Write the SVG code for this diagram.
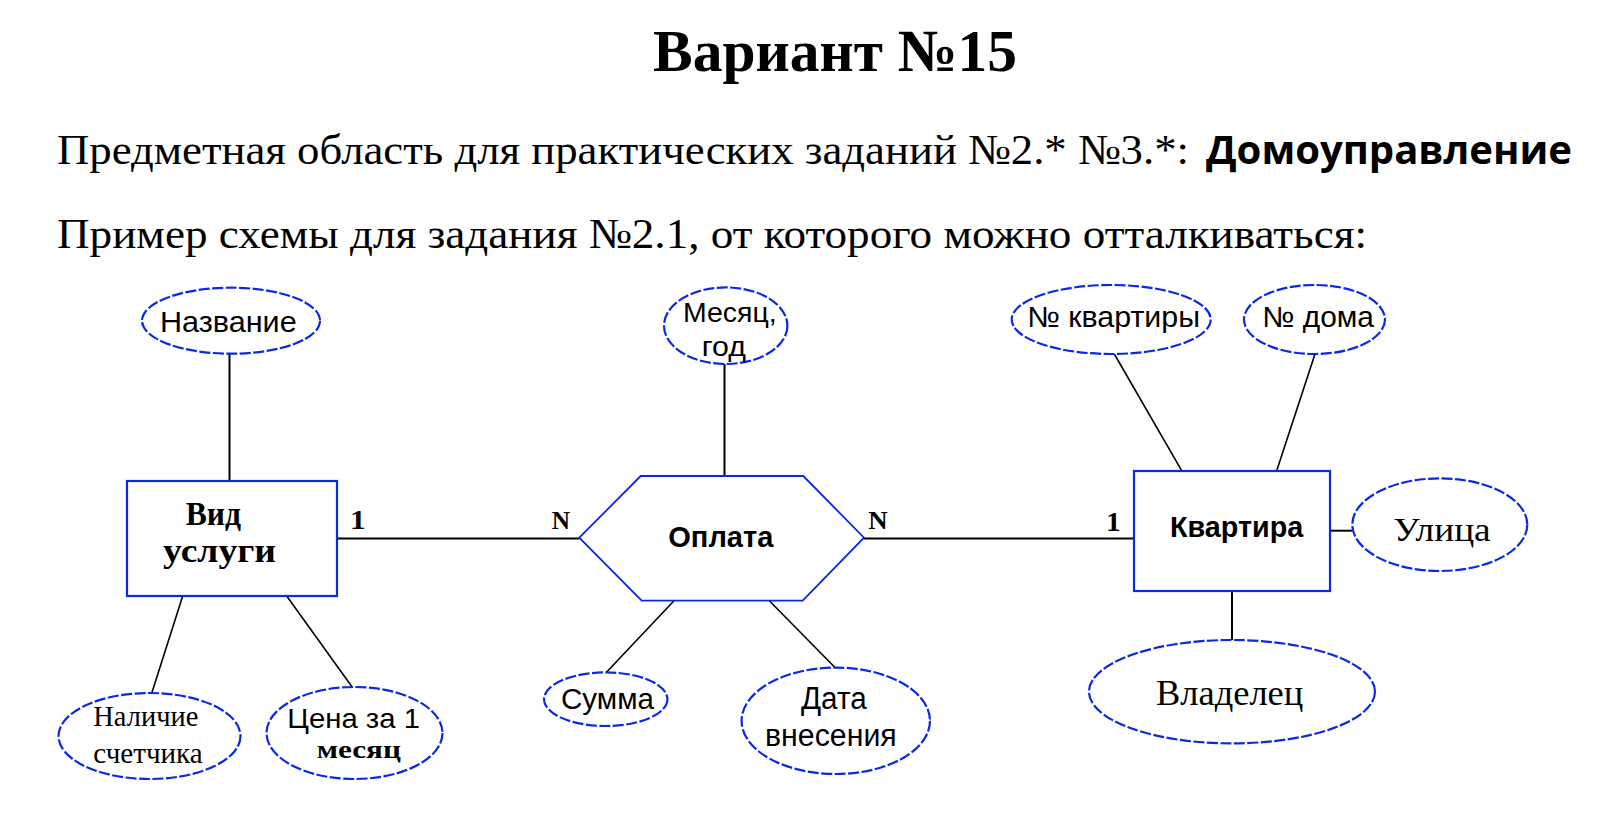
<svg xmlns="http://www.w3.org/2000/svg" width="1624" height="838" viewBox="0 0 1624 838">
<style>
.bg{fill:#ffffff}
.ent{fill:#ffffff;stroke:#0a28e6;stroke-width:2.2}
.rel{fill:#ffffff;stroke:#0a28e6;stroke-width:1.8}
.att{fill:#ffffff;stroke:#0a28e6;stroke-width:2.2;stroke-dasharray:11 2.5}
.ln{stroke:#000000;stroke-width:2;fill:none}
.dg{stroke:#000000;stroke-width:1.6;fill:none}
.sans{font-family:"Liberation Sans",Arial,sans-serif;fill:#000}
.serif{font-family:"Liberation Serif","Times New Roman",serif;fill:#000}
.b{font-weight:bold}
</style>
<rect class="bg" x="0" y="0" width="1624" height="838"/>
<g id="header">
<text class="serif b" x="653" y="71" font-size="60" textLength="364" lengthAdjust="spacingAndGlyphs">Вариант №15</text>
<text class="serif" x="57" y="164" font-size="43" textLength="1132" lengthAdjust="spacingAndGlyphs">Предметная область для практических заданий №2.* №3.*:</text>
<text x="1206" y="164" font-family="'Open Sans','Noto Sans',sans-serif" font-weight="bold" font-size="40" textLength="366" lengthAdjust="spacingAndGlyphs">Домоуправление</text>
<text class="serif" x="57" y="248" font-size="43" textLength="1310" lengthAdjust="spacingAndGlyphs">Пример схемы для задания №2.1, от которого можно отталкиваться:</text>
</g>
<g id="connectors">
<line class="ln" x1="229.5" y1="354" x2="229.5" y2="481"/>
<line class="ln" x1="337" y1="538.5" x2="579.5" y2="538.5"/>
<line class="ln" x1="864" y1="538.5" x2="1134" y2="538.5"/>
<line class="ln" x1="724.5" y1="364" x2="724.5" y2="476"/>
<line class="dg" x1="182.7" y1="596" x2="151.7" y2="693.3"/>
<line class="dg" x1="286.7" y1="596" x2="352.3" y2="687.3"/>
<line class="dg" x1="674" y1="600.7" x2="606.7" y2="672"/>
<line class="dg" x1="769.3" y1="600.7" x2="835" y2="667.5"/>
<line class="dg" x1="1114.3" y1="354" x2="1181.7" y2="470.7"/>
<line class="dg" x1="1315" y1="354" x2="1276.7" y2="470.7"/>
<line class="ln" x1="1330" y1="530.7" x2="1352.3" y2="530.7"/>
<line class="ln" x1="1232" y1="591" x2="1232" y2="640"/>
</g>
<g id="cardinalities">
<text class="serif b" x="350" y="529.3" font-size="27" textLength="15.7" lengthAdjust="spacingAndGlyphs">1</text>
<text class="serif b" x="551.7" y="529.3" font-size="26" textLength="18.3" lengthAdjust="spacingAndGlyphs">N</text>
<text class="serif b" x="868.3" y="529.3" font-size="26" textLength="19.4" lengthAdjust="spacingAndGlyphs">N</text>
<text class="serif b" x="1106" y="531" font-size="27" textLength="14.7" lengthAdjust="spacingAndGlyphs">1</text>
</g>
<g id="vid-uslugi">
<rect class="ent" x="127" y="481" width="210" height="115"/>
<text class="serif b" x="185.7" y="525" font-size="33" textLength="55.3" lengthAdjust="spacingAndGlyphs">Вид</text>
<text class="serif b" x="163" y="561.7" font-size="33" textLength="113" lengthAdjust="spacingAndGlyphs">услуги</text>
</g>
<g id="oplata">
<polygon class="rel" points="579.3,537.7 640.7,476 803.3,476 864,537.7 802.7,600.7 641.7,600.7"/>
<text class="sans b" x="668.3" y="546.7" font-size="30" textLength="105" lengthAdjust="spacingAndGlyphs">Оплата</text>
</g>
<g id="kvartira">
<rect class="ent" x="1134" y="471" width="196" height="120"/>
<text class="sans b" x="1170" y="536.7" font-size="30" textLength="133.3" lengthAdjust="spacingAndGlyphs">Квартира</text>
</g>
<g id="nazvanie">
<ellipse class="att" cx="231" cy="320.7" rx="89" ry="33"/>
<text class="sans" x="160" y="331.7" font-size="29" textLength="136.7" lengthAdjust="spacingAndGlyphs">Название</text>
</g>
<g id="nalichie">
<ellipse class="att" cx="149.5" cy="736" rx="91" ry="43"/>
<text class="serif" x="93.3" y="726" font-size="30" textLength="105" lengthAdjust="spacingAndGlyphs">Наличие</text>
<text class="serif" x="93.3" y="763.3" font-size="30" textLength="109.4" lengthAdjust="spacingAndGlyphs">счетчика</text>
</g>
<g id="cena">
<ellipse class="att" cx="354.5" cy="733" rx="88" ry="46"/>
<text class="sans" x="287.3" y="728" font-size="28" textLength="132.7" lengthAdjust="spacingAndGlyphs">Цена за 1</text>
<text class="serif b" x="316.7" y="758" font-size="25" textLength="84.3" lengthAdjust="spacingAndGlyphs">месяц</text>
</g>
<g id="mesyac-god">
<ellipse class="att" cx="725.7" cy="325.7" rx="61.7" ry="38.3"/>
<text class="sans" x="683" y="321.7" font-size="27" textLength="93.7" lengthAdjust="spacingAndGlyphs">Месяц,</text>
<text class="sans" x="701.7" y="356" font-size="28" textLength="44.3" lengthAdjust="spacingAndGlyphs">год</text>
</g>
<g id="summa">
<ellipse class="att" cx="605.7" cy="699.2" rx="61.7" ry="26.8"/>
<text class="sans" x="561" y="709" font-size="30" textLength="93" lengthAdjust="spacingAndGlyphs">Сумма</text>
</g>
<g id="data-vneseniya">
<ellipse class="att" cx="835.8" cy="720.8" rx="94.2" ry="53.2"/>
<text class="sans" x="801" y="709.3" font-size="31" textLength="65.7" lengthAdjust="spacingAndGlyphs">Дата</text>
<text class="sans" x="765" y="746" font-size="31" textLength="131.7" lengthAdjust="spacingAndGlyphs">внесения</text>
</g>
<g id="nomer-kvartiry">
<ellipse class="att" cx="1111.2" cy="319.5" rx="99.5" ry="34.5"/>
<text class="sans" x="1027.3" y="326.7" font-size="29" textLength="172.7" lengthAdjust="spacingAndGlyphs">№ квартиры</text>
</g>
<g id="nomer-doma">
<ellipse class="att" cx="1314.5" cy="319.5" rx="70.5" ry="34.5"/>
<text class="sans" x="1262.3" y="326.7" font-size="29" textLength="111.7" lengthAdjust="spacingAndGlyphs">№ дома</text>
</g>
<g id="ulica">
<ellipse class="att" cx="1439.8" cy="524.7" rx="87.5" ry="46.3"/>
<text class="serif" x="1393.3" y="540.7" font-size="34" textLength="97.4" lengthAdjust="spacingAndGlyphs">Улица</text>
</g>
<g id="vladelec">
<ellipse class="att" cx="1232" cy="691.7" rx="143" ry="51.7"/>
<text class="serif" x="1156" y="705" font-size="36" textLength="147.3" lengthAdjust="spacingAndGlyphs">Владелец</text>
</g>
</svg>
